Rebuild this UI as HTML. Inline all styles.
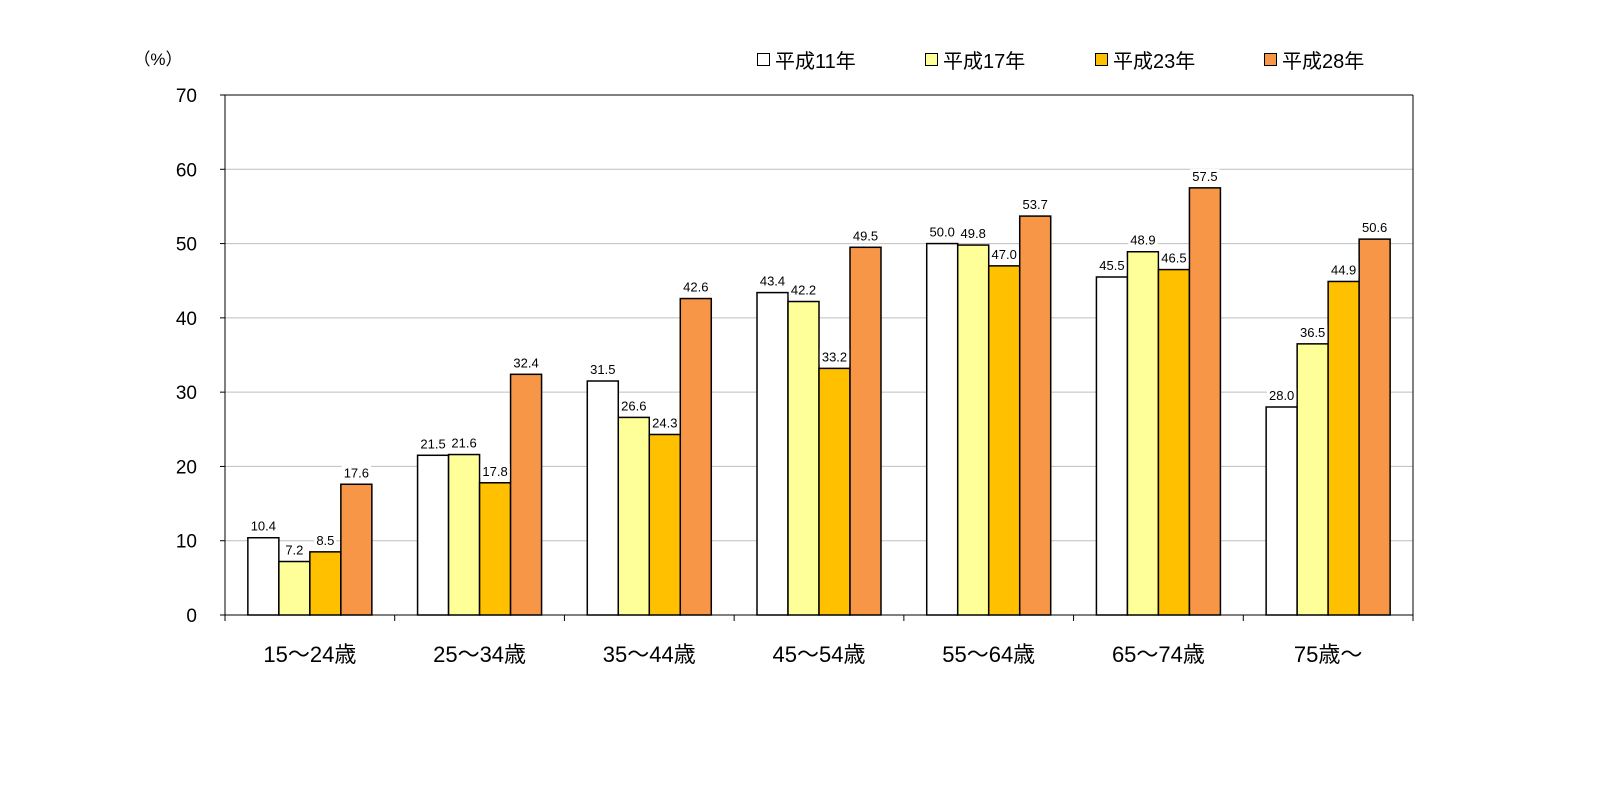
<!DOCTYPE html>
<html><head><meta charset="utf-8"><style>
html,body{margin:0;padding:0;background:#fff;}
svg text{font-family:"Liberation Sans","Noto Sans CJK JP",sans-serif;}
</style></head><body>
<svg width="1600" height="800" xmlns="http://www.w3.org/2000/svg">
<rect width="1600" height="800" fill="#fff"/>
<g id="grid" stroke="#bfbfbf" stroke-width="1"></g>
<g id="bars"></g>
<g id="axes"></g>
<text x="158" y="65" font-size="17" text-anchor="middle" fill="#000">（%）</text>
<g font-size="20" fill="#000">
<rect x="757.5" y="53.5" width="12" height="12" fill="#fff" stroke="#000"/>
<text x="775" y="68">平成11年</text>
<rect x="925.5" y="53.5" width="12" height="12" fill="#FFFF99" stroke="#000"/>
<text x="943" y="68">平成17年</text>
<rect x="1095.5" y="53.5" width="12" height="12" fill="#FFC000" stroke="#000"/>
<text x="1113" y="68">平成23年</text>
<rect x="1264.5" y="53.5" width="12" height="12" fill="#F79646" stroke="#000"/>
<text x="1282" y="68">平成28年</text>
</g>
</svg>
<script>
const ns="http://www.w3.org/2000/svg";
const svg=document.querySelector('svg');
function el(t,a,p,txt){const e=document.createElementNS(ns,t);for(const k in a)e.setAttribute(k,a[k]);if(txt!=null)e.textContent=txt;(p||svg).appendChild(e);return e;}
const L=225,R=1413,T=95,B=615,sc=(B-T)/70;
const grid=document.getElementById('grid'),bars=document.getElementById('bars'),axes=document.getElementById('axes');
for(let v=10;v<=70;v+=10){const y=B-v*sc;el('line',{x1:L,x2:R,y1:y,y2:y},grid);}
for(let v=0;v<=70;v+=10){const y=B-v*sc;el('text',{x:197,y:y+7,'font-size':19,'text-anchor':'end',fill:'#000'},axes,v);el('line',{x1:L-5,x2:L,y1:y,y2:y,stroke:'#000'},axes);}
const data=[[10.4,7.2,8.5,17.6],[21.5,21.6,17.8,32.4],[31.5,26.6,24.3,42.6],[43.4,42.2,33.2,49.5],[50.0,49.8,47.0,53.7],[45.5,48.9,46.5,57.5],[28.0,36.5,44.9,50.6]];
const cats=['15～24歳','25～34歳','35～44歳','45～54歳','55～64歳','65～74歳','75歳～'];
const cols=['#FFFFFF','#FFFF99','#FFC000','#F79646'];
const gw=(R-L)/7,bw=31,off=(gw-4*bw)/2;
data.forEach((g,i)=>{const gx=L+i*gw;
 g.forEach((v,j)=>{const x=gx+off+j*bw,y=B-v*sc;
  el('rect',{x:x,y:y,width:bw,height:v*sc,fill:cols[j],stroke:'#000','stroke-width':1.5},bars);
 });
 g.forEach((v,j)=>{const x=gx+off+j*bw,y=B-v*sc;
  const t=el('text',{x:x+bw/2,y:y-7,'font-size':13,'text-anchor':'middle',fill:'#000'},bars,v.toFixed(1));
  const bb=t.getBBox();const r=el('rect',{x:bb.x-2,y:bb.y,width:bb.width+4,height:bb.height,fill:'#fff'});bars.insertBefore(r,t);
 });
 el('text',{x:gx+gw/2,y:662,'font-size':22,'text-anchor':'middle',fill:'#000'},axes,cats[i]);
 el('line',{x1:gx+gw,x2:gx+gw,y1:B,y2:B+6,stroke:'#000'},axes);
});
el('line',{x1:L,x2:L,y1:T,y2:B,stroke:'#000'},axes);
el('line',{x1:L,x2:R,y1:T,y2:T,stroke:'#000'},axes);
el('line',{x1:R,x2:R,y1:T,y2:B,stroke:'#000'},axes);
el('line',{x1:L,x2:R,y1:B,y2:B,stroke:'#000'},axes);
el('line',{x1:L,x2:L,y1:B,y2:B+6,stroke:'#000'},axes);
</script>
</body></html>
